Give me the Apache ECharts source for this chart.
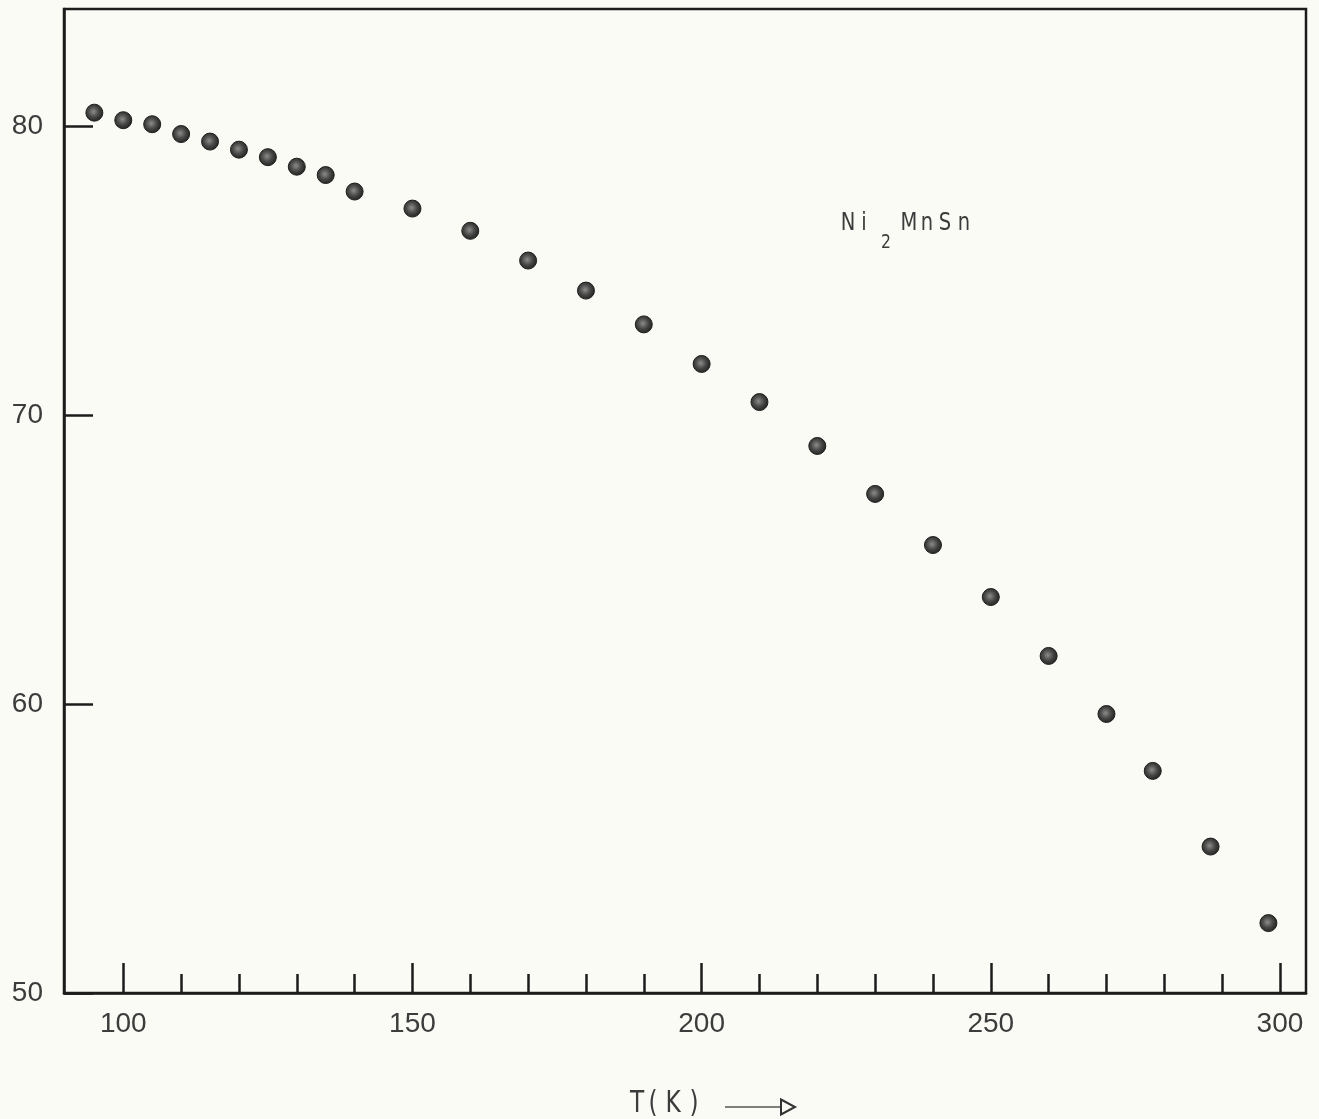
<!DOCTYPE html>
<html>
<head>
<meta charset="utf-8">
<title>Ni2MnSn magnetization vs temperature</title>
<script src="https://cdn.jsdelivr.net/npm/echarts@6/dist/echarts.min.js"></script>
<style>
  html, body { margin: 0; padding: 0; background: #fafbf4; }
  #chart { width: 1319px; height: 1119px; }
</style>
</head>
<body>
<div id="chart"></div>
<script>
// Temperature (K) and measured values for Ni2MnSn
const temperature = [95, 100, 105, 110, 115, 120, 125, 130, 135, 140,
  150, 160, 170, 180, 190, 200, 210, 220, 230, 240,
  250, 260, 270, 278, 288, 298];
const magnetization = [80.48, 80.22, 80.08, 79.74, 79.48, 79.20, 78.94, 78.61, 78.32, 77.75,
  77.16, 76.39, 75.36, 74.32, 73.15, 71.78, 70.46, 68.94, 67.28, 65.51,
  63.71, 61.67, 59.66, 57.69, 55.07, 52.42];

// Axis ticks
const xMajorTicks = [100, 150, 200, 250, 300];
const xMinorTicks = [110, 120, 130, 140, 160, 170, 180, 190, 210, 220, 230, 240, 260, 270, 280, 290];
const yTicks = [50, 60, 70, 80];

const ink = '#1c1c1c';
const textGrey = '#3c3c3c';
const labelFont = "'Liberation Sans', Arial, sans-serif";
const typeFont = "'DejaVu Sans', sans-serif";

const chart = echarts.init(document.getElementById('chart'), null, { renderer: 'canvas' });

const points = temperature.map((t, i) => [t, magnetization[i]]);

const labelStyle = { fontFamily: labelFont, fontSize: 28, color: textGrey };

// Typewriter-style text: one narrow glyph per fixed-width cell
function typewriter(chars, centers, y, size, squeeze) {
  return chars.split('').map((ch, i) => ({
    type: 'text',
    x: centers[i], y: y,
    scaleX: squeeze,
    style: {
      text: ch, align: 'center', verticalAlign: 'middle',
      fontFamily: typeFont, fontSize: size, fill: textGrey
    }
  }));
}

const option = {
  backgroundColor: '#fafbf4',
  animation: false,
  grid: {
    left: 64, right: 13, top: 9, bottom: 126,
    show: true, borderColor: ink, borderWidth: 2.5, backgroundColor: 'transparent'
  },
  xAxis: [
    {
      type: 'value', min: 89.75, max: 304.5, position: 'bottom',
      axisLine: { show: true, lineStyle: { color: ink, width: 2.5 } },
      splitLine: { show: false },
      axisTick: { show: true, inside: true, length: 30, customValues: xMajorTicks,
        lineStyle: { color: ink, width: 2.5 } },
      axisLabel: Object.assign({ show: true, margin: 17, customValues: xMajorTicks }, labelStyle)
    },
    {
      type: 'value', min: 89.75, max: 304.5, position: 'bottom',
      axisLine: { show: false },
      splitLine: { show: false },
      axisTick: { show: true, inside: true, length: 19, customValues: xMinorTicks,
        lineStyle: { color: ink, width: 2.5 } },
      axisLabel: { show: false }
    }
  ],
  yAxis: {
    type: 'value', min: 50, max: 84.07,
    axisLine: { show: true, lineStyle: { color: ink, width: 2.5 } },
    splitLine: { show: false },
    axisTick: { show: true, inside: true, length: 29, customValues: yTicks,
      lineStyle: { color: ink, width: 2.5 } },
    axisLabel: Object.assign({ show: true, margin: 21, customValues: yTicks }, labelStyle)
  },
  series: [{
    type: 'scatter',
    data: points,
    symbol: 'circle',
    symbolSize: 17,
    itemStyle: {
      color: new echarts.graphic.RadialGradient(0.45, 0.45, 0.6, [
        { offset: 0, color: '#8c8c8a' },
        { offset: 0.5, color: '#474745' },
        { offset: 1, color: '#1c1c1c' }
      ]),
      borderColor: '#1e1e1e',
      borderWidth: 1,
      opacity: 1
    }
  }],
  graphic: [].concat(
    typewriter('Ni', [848, 864], 223, 25, 0.78),
    typewriter('2', [886], 243, 20, 0.78),
    typewriter('MnSn', [909, 927, 945, 964], 223, 25, 0.78),
    typewriter('T(K)', [637, 653, 673, 694], 1104, 31, 0.75),
    [
      {
        type: 'line',
        shape: { x1: 725, y1: 1107, x2: 781, y2: 1107 },
        style: { stroke: '#555', lineWidth: 1.6 }
      },
      {
        type: 'polygon',
        shape: { points: [[781, 1099.5], [795, 1107], [781, 1114.5]] },
        style: { fill: 'none', stroke: '#333', lineWidth: 2 }
      }
    ]
  )
};

chart.setOption(option);
</script>
</body>
</html>
